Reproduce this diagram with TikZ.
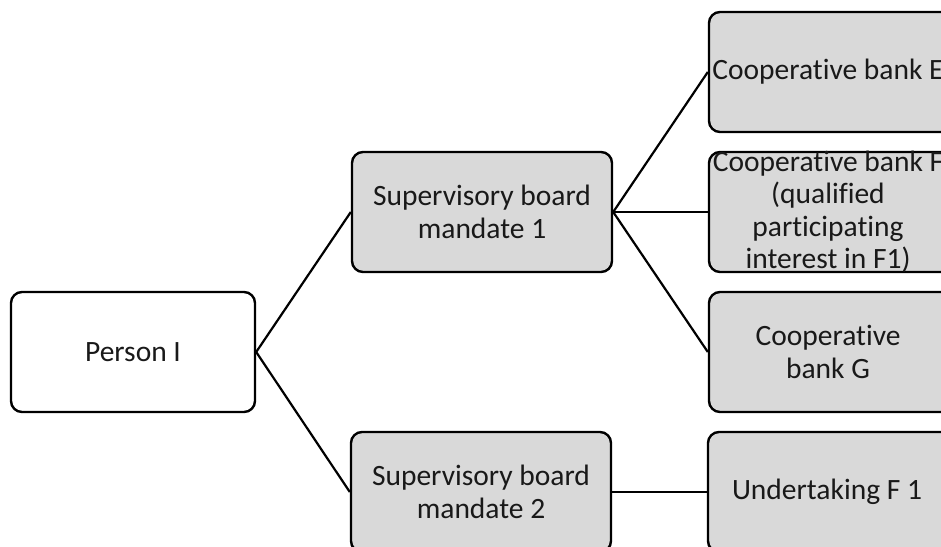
\documentclass[tikz,border=0pt]{standalone}
\usepackage{fontspec}
\setmainfont{Carlito}[Ligatures=NoCommon]
\begin{document}
\begin{tikzpicture}[x=1pt,y=-1pt,
  txt/.style={align=center, font=\fontsize{29.5}{32.5}\selectfont, text=black!90},
  box/.style={draw=black, line width=2.4pt, rounded corners=11pt,
    minimum width=260pt, minimum height=120pt, inner sep=0pt, txt},
  grey/.style={box, fill=gray!30},
  white/.style={box, fill=white, minimum width=244pt},
  % boxes of the last column: caption set slightly left of the box centre
  leaf/.style={grey, label={[txt, xshift=-11pt]center:#1}},
  link/.style={draw=black, line width=2.2pt}]
  \useasboundingbox (0,0) rectangle (941,546);
  \clip (0,0) rectangle (941,546);

  % root
  \node[white] (person) at (133,352) {Person I};

  % mandates
  \node[grey] (m1) at (482,212) {Supervisory board\\mandate 1};
  \node[grey] (m2) at (481,492) {Supervisory board\\mandate 2};

  % institutions
  \node[leaf={Cooperative bank E}] (e) at (839,72) {};
  \node[leaf={Cooperative bank F\\(qualified\\participating\\interest in F1)}] (f) at (839,212) {};
  \node[leaf={Cooperative\\bank G}] (g) at (839,352) {};
  \node[leaf={Undertaking F 1}] (f1) at (838,492) {};

  % connectors
  \draw[link] (person.east) -- (m1.west);
  \draw[link] (person.east) -- (m2.west);
  \draw[link] (m1.east) -- (e.west);
  \draw[link] (m1.east) -- (f.west);
  \draw[link] (m1.east) -- (g.west);
  \draw[link] (m2.east) -- (f1.west);
\end{tikzpicture}
\end{document}
